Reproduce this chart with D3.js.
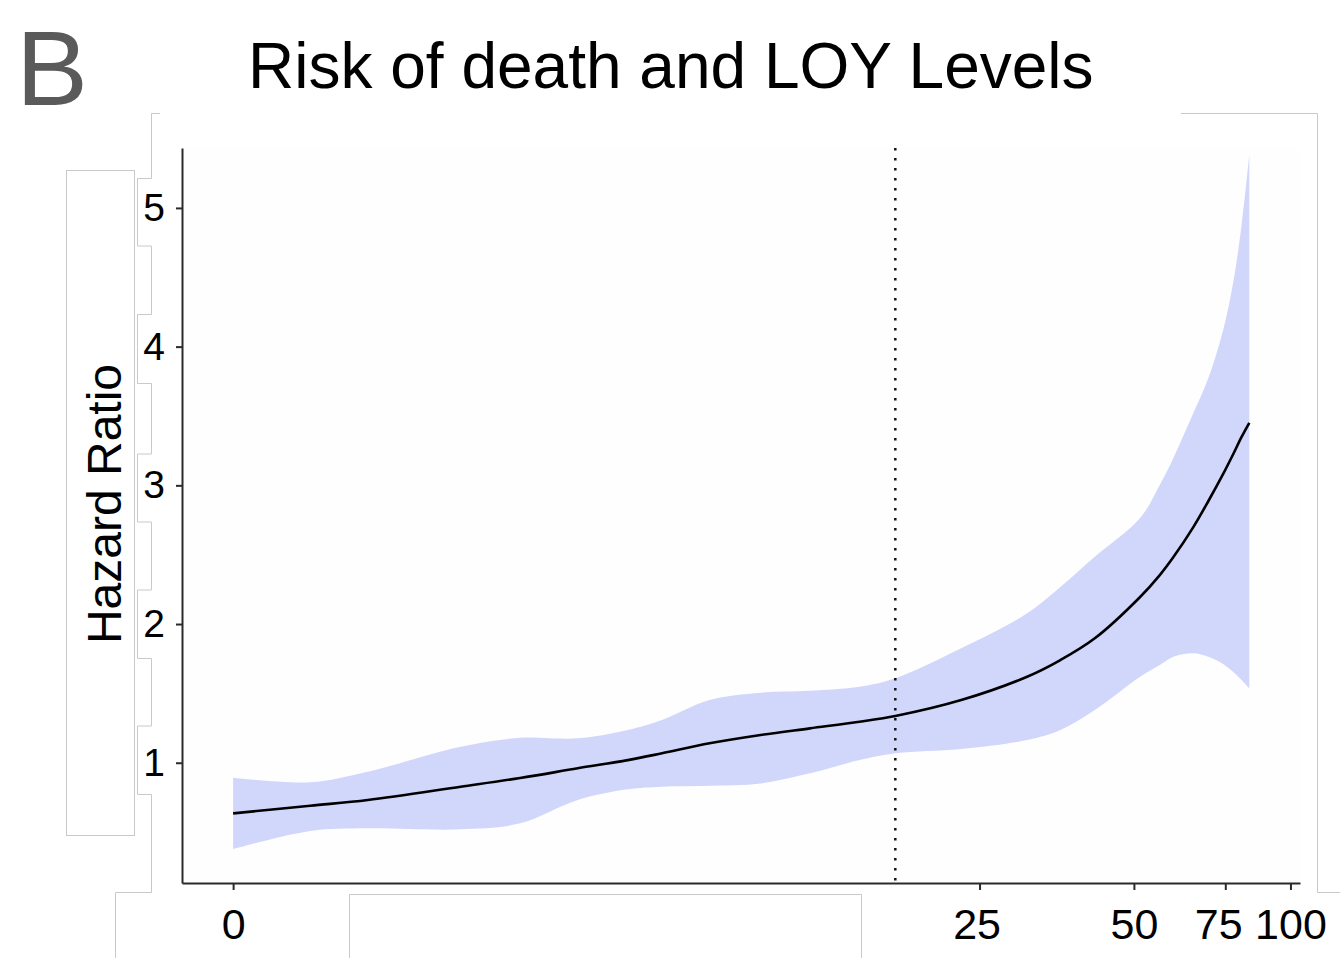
<!DOCTYPE html>
<html>
<head>
<meta charset="utf-8">
<script src="https://cdn.jsdelivr.net/npm/d3@7"></script>
<style>
  html, body { margin: 0; padding: 0; background: #ffffff; }
  svg { display: block; }
  text { font-family: "Liberation Sans", Arial, Helvetica, sans-serif; }
</style>
</head>
<body>
<svg id="chart" width="1340" height="958"></svg>
<script>
// ---- data ----
const loyPct      = [0, 0.4, 0.8, 1.7, 2.5, 3.5, 4.6, 5.5, 7, 9, 11.4, 14.4, 17, 23, 31, 36, 42, 51.4, 56.1, 59.6, 65.1, 69.6, 74.3, 77.7, 80.6, 83.4];
const hazardRatio = [0.635, 0.69, 0.731, 0.827, 0.89, 0.96, 1.019, 1.068, 1.14, 1.2, 1.248, 1.296, 1.337, 1.452, 1.62, 1.74, 1.897, 2.195, 2.353, 2.483, 2.699, 2.887, 3.082, 3.226, 3.349, 3.451];
const ciUpper     = [0.892, 0.859, 0.935, 1.115, 1.18, 1.176, 1.236, 1.308, 1.452, 1.505, 1.519, 1.548, 1.609, 1.825, 2.077, 2.267, 2.485, 2.764, 3.002, 3.197, 3.521, 3.774, 4.12, 4.466, 4.877, 5.382];
const ciLower     = [0.378, 0.508, 0.527, 0.52, 0.563, 0.731, 0.808, 0.827, 0.834, 0.851, 0.924, 1.019, 1.068, 1.099, 1.164, 1.236, 1.38, 1.62, 1.704, 1.764, 1.789, 1.764, 1.712, 1.654, 1.596, 1.536];
const xTicks = [0, 25, 50, 75, 100];
const yTicks = [1, 2, 3, 4, 5];
const cutoff = 17;
const titleText = "Risk of death and LOY Levels";
const panelLabel = "B";
const yTitle = "Hazard Ratio";

(function () {
const rows = loyPct.map((x, i) => ({ x, hr: hazardRatio[i], lo: ciLower[i], hi: ciUpper[i] }));

const svg = d3.select("#chart");

// ---- scales (log1p x axis, linear y) ----
const pLeft = 182, pRight = 1300, pTop = 148, pBottom = 883;
const xLog = d3.scaleLog().base(Math.E).domain([0.8, 105.3]).range([pLeft, pRight]);
const x = v => xLog(v + 1);
const y = d3.scaleLinear().domain([0.133, 5.432]).range([pBottom, pTop]);

// ---- decorative composite-frame lines ----
const deco = svg.append("g").attr("fill", "none").attr("stroke", "#c9c9c9").attr("stroke-width", 1);
deco.append("path").attr("d", "M160,113.5H151.5V178.5H137.5V246H151.5V314.5H137.5V383.5H151.5V454H137.5V522H151.5V590H137.5V658.5H151.5V726H137.5V794.5H151.5V892.5H115.5V958");
deco.append("rect").attr("x", 66.5).attr("y", 170.5).attr("width", 68).attr("height", 665).attr("fill", "#ffffff");
deco.append("path").attr("d", "M349.5,958V894.5H861.5V958");
deco.append("path").attr("d", "M1181,113.5H1317.5V892.5H1340");

// panel background (very faint)
svg.append("rect").attr("x", pLeft).attr("y", pTop).attr("width", pRight - pLeft).attr("height", pBottom - pTop).attr("fill", "#fefefe");

const curve = d3.curveCatmullRom.alpha(0.5);

// ---- ribbon ----
const area = d3.area()
  .x(d => x(d.x))
  .y0(d => y(d.lo))
  .y1(d => y(d.hi))
  .curve(curve);
svg.append("path").datum(rows).attr("d", area).attr("fill", "#d1d6fb");

// ---- cutoff dotted line ----
svg.append("line")
  .attr("x1", x(cutoff)).attr("x2", x(cutoff))
  .attr("y1", pTop).attr("y2", pBottom)
  .attr("stroke", "#111").attr("stroke-width", 2.5)
  .attr("stroke-dasharray", "2.5 7.5");

// ---- HR line ----
const line = d3.line().x(d => x(d.x)).y(d => y(d.hr)).curve(curve);
svg.append("path").datum(rows).attr("d", line).attr("fill", "none").attr("stroke", "#000").attr("stroke-width", 2.6);

// ---- axes ----
const xAxis = d3.axisBottom(xLog)
  .tickValues(xTicks.map(v => v + 1))
  .tickFormat((d, i) => String(xTicks[i]))
  .tickSize(7).tickSizeOuter(0).tickPadding(18);
const gx = svg.append("g").attr("transform", `translate(0,${pBottom})`).call(xAxis);
gx.select(".domain").attr("stroke", "#2a2a2a").attr("stroke-width", 2);
gx.selectAll(".tick line").attr("stroke", "#2a2a2a").attr("stroke-width", 2);
gx.selectAll(".tick text").attr("fill", "#000").style("font-size", "43px")
  .attr("dx", (d, i) => xTicks[i] === 75 ? -7 : (xTicks[i] === 25 ? -3 : 0));

const yAxis = d3.axisLeft(y).tickValues(yTicks).tickFormat(d3.format("d"))
  .tickSize(6).tickSizeOuter(0).tickPadding(11);
const gy = svg.append("g").attr("transform", `translate(${pLeft},0)`).call(yAxis);
gy.select(".domain").attr("stroke", "#2a2a2a").attr("stroke-width", 2);
gy.selectAll(".tick line").attr("stroke", "#2a2a2a").attr("stroke-width", 2);
gy.selectAll(".tick text").attr("fill", "#000").style("font-size", "39px");

// ---- titles ----
svg.append("text").attr("x", 248).attr("y", 88).attr("fill", "#000")
  .style("font-size", "64px").text(titleText);
svg.append("text").attr("x", 16).attr("y", 105).attr("fill", "#5a5a5a")
  .style("font-size", "106px").attr("textLength", 72).attr("lengthAdjust", "spacingAndGlyphs")
  .text(panelLabel);
svg.append("text")
  .attr("transform", "translate(121,504) rotate(-90)")
  .attr("text-anchor", "middle").attr("fill", "#000")
  .style("font-size", "48px").text(yTitle);
})();
</script>
</body>
</html>
